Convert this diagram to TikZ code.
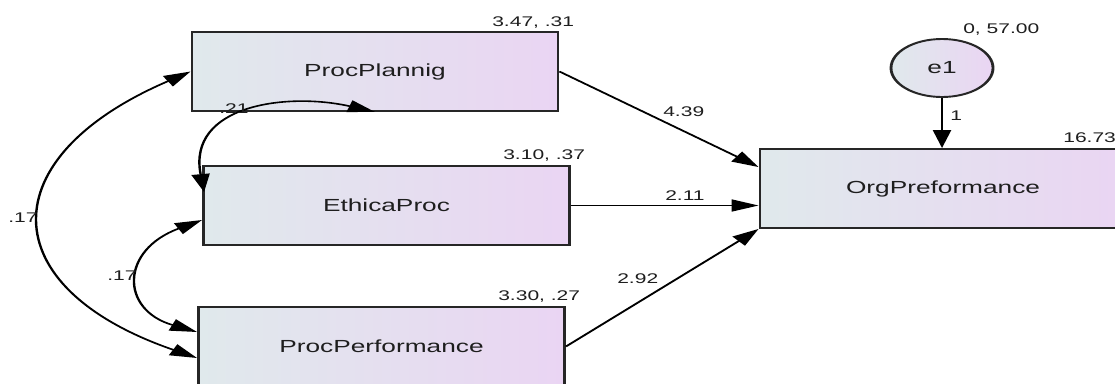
\documentclass[tikz,border=0pt]{standalone}
\usepackage{fontspec}
\setmainfont{Liberation Sans}
\usetikzlibrary{arrows.meta,calc,shapes.geometric}
\definecolor{boxL}{RGB}{224,233,236}
\definecolor{boxR}{RGB}{234,213,243}
\definecolor{txt}{RGB}{30,30,30}
\tikzset{
  var/.style={rectangle, draw=black!85, line width=1.9pt, left color=boxL, right color=boxR,
    minimum width=244pt, minimum height=79pt, inner sep=0pt,
    font=\fontsize{17.5}{20}\selectfont, text=txt},
  errvar/.style={ellipse, draw=black!85, line width=1.9pt, left color=boxL, right color=boxR,
    minimum width=68pt, minimum height=58pt, inner sep=0pt,
    font=\fontsize{17.5}{20}\selectfont, text=txt},
  lbl/.style={inner sep=0pt, anchor=base west, font=\fontsize{14}{16}\selectfont, text=txt},
  regarrow/.style={draw=black, line width=1.6pt, -{Triangle[length=18pt,width=12pt]}},
  covarrow/.style={draw=black, line width=1.6pt,
    {Triangle[length=18pt,width=12pt]}-{Triangle[length=18pt,width=12pt]}},
}
\begin{document}
\begin{tikzpicture}[x=1pt,y=-1pt]
\fill[white] (0,0) rectangle (1115,383);
\path[use as bounding box] (0,0) rectangle (1115,383);
\clip (0,0) rectangle (1115,383);
\begin{scope}[transform canvas={xscale=1.5}, x=0.6666667pt]
  % variables
  \node[var] (pp)  at (375,71.5)   {ProcPlannig};
  \node[var] (eth) at (386.5,205.5) {EthicaProc};
  \node[var] (ppf) at (381.5,346.5) {ProcPerformance};
  \node[var] (org) at (943,188.5)  {OrgPreformance};
  \node[errvar] (e1) at (942,68) {e1};

  % helper points
  \coordinate (t1) at ($(org.north west)+(0,19)$);
  \coordinate (a1) at ($(ppf.west)+(0,11.5)$);
  \coordinate (b1) at ($(eth.west)+(0,14.5)$);
  \coordinate (b2) at ($(ppf.west)+(0,-14.5)$);
  \coordinate (c2) at ($(eth.north west)+(2,27)$);

  % regressions
  \draw[regarrow] (pp.east) -- (t1);
  \draw[regarrow] (eth.east) -- (eth.east -| org.west);
  \draw[regarrow] (ppf.east) -- (org.south west);
  \draw[regarrow] (e1.south) -- (e1.south |- org.north);

  % covariances
  \draw[covarrow] (pp.west) .. controls (-9,157) and (-9,287) .. (a1);
  \draw[covarrow] (b1) .. controls (120,250) and (120,310) .. (b2);
  \draw[covarrow] (pp.south) .. controls (287,92) and (187,105) .. (c2);

  % labels
  \node[lbl] (lpp)  at (492,26)  {3.47, .31};
  \node[lbl] (leth) at (503,159) {3.10, .37};
  \node[lbl] (lppf) at (498,300) {3.30, .27};
  \node[lbl] (lorg) at (1063,142) {16.73};
  \node[lbl] (le1)  at (963,33)  {0, 57.00};
  \node[lbl] (w0)   at (950,120) {1};
  \node[lbl] (w1)   at (663,116) {4.39};
  \node[lbl] (w2)   at (665,200) {2.11};
  \node[lbl] (w3)   at (617,283) {2.92};
  \node[lbl] (c1l)  at (8,222)   {.17};
  \node[lbl] (c2l)  at (107,280) {.17};
  \node[lbl] (c3l)  at (219,113) {.21};
\end{scope}
\end{tikzpicture}
\end{document}
